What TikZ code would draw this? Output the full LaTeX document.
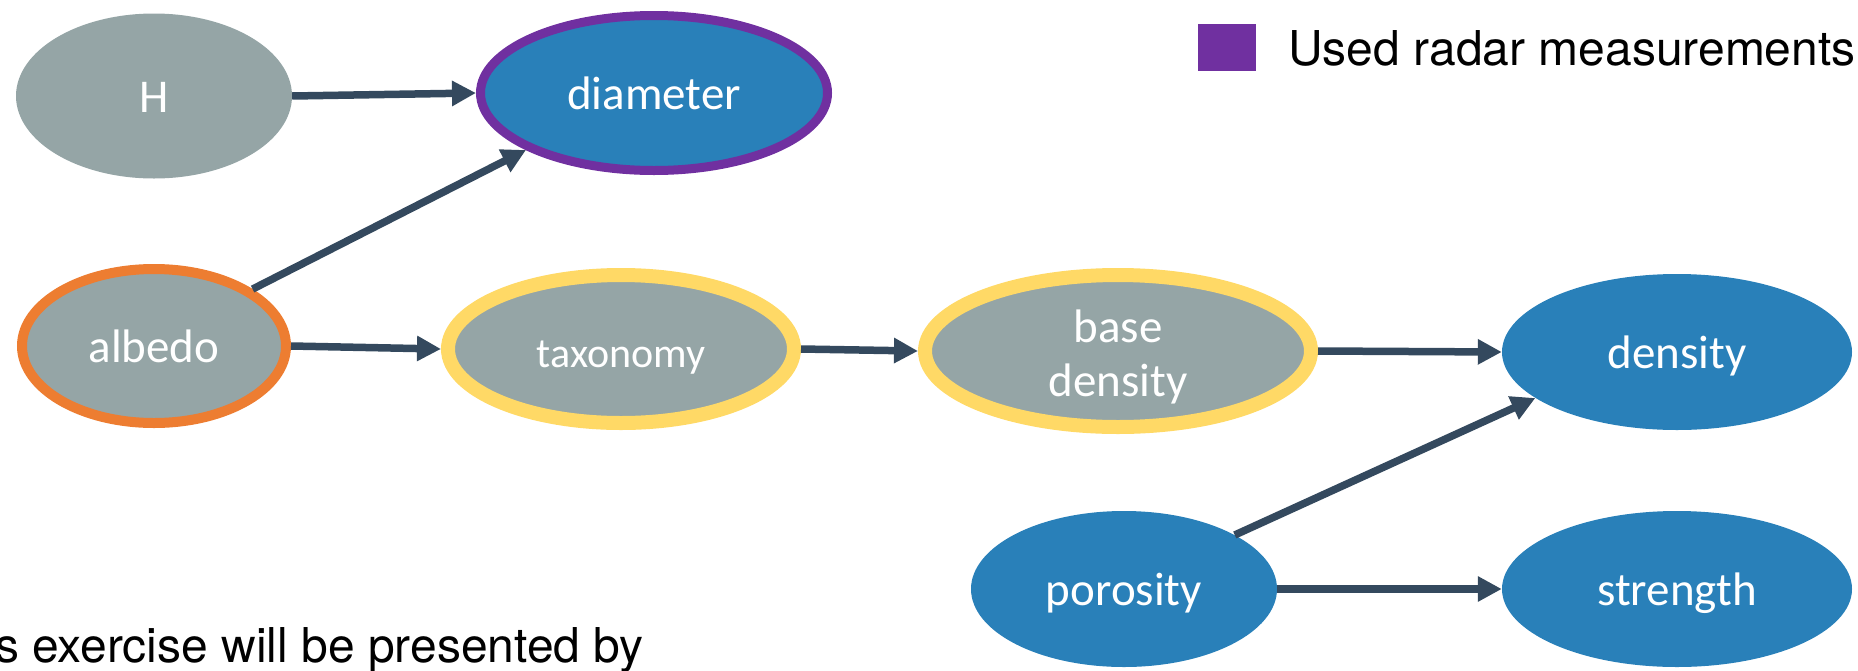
\documentclass[tikz,border=0pt]{standalone}
\usepackage{fontspec}
\setmainfont{Carlito}
\newfontfamily\legendfont{TeX Gyre Heros}
\usetikzlibrary{shapes.geometric,arrows.meta}

\definecolor{nodegray}{HTML}{95A5A6}
\definecolor{nodeblue}{HTML}{2980B9}
\definecolor{radarpurple}{HTML}{7030A0}
\definecolor{albedoorange}{HTML}{ED7D31}
\definecolor{taxyellow}{HTML}{FFD966}
\definecolor{edgeslate}{HTML}{34495E}

\tikzset{
  varnode/.style={ellipse, inner sep=0pt, text=white,
    font=\fontsize{47}{54}\selectfont, text height=33pt, text depth=0pt},
  grayvar/.style={varnode, fill=nodegray},
  bluevar/.style={varnode, fill=nodeblue},
  radarring/.style={draw=radarpurple, line width=9pt},
  orangering/.style={draw=albedoorange, line width=10pt},
  yellowring/.style={draw=taxyellow, line width=14pt},
  link/.style={draw=edgeslate, line width=7.5pt,
    -{Triangle[length=24pt,width=24pt]}},
  legendtext/.style={font=\legendfont\fontsize{48}{54}\selectfont,
    text=black, inner sep=0pt}
}

\begin{document}
\begin{tikzpicture}[x=1pt,y=-1pt]
  \path[use as bounding box] (0,0) rectangle (1858,670);
  \clip (0,0) rectangle (1858,670);

  % variables
  \node[grayvar, minimum width=276pt, minimum height=165pt] (H) at (154,96) {H};
  \node[bluevar, radarring, minimum width=347pt, minimum height=155pt] (diameter) at (654,93) {diameter};
  \node[grayvar, orangering, minimum width=264pt, minimum height=154pt] (albedo) at (154,346) {albedo};
  \node[grayvar, yellowring, minimum width=346pt, minimum height=148pt,
        font=\fontsize{42}{48}\selectfont, text height=36pt] (taxonomy) at (621,349) {taxonomy};
  \node[grayvar, yellowring, minimum width=386pt, minimum height=152pt,
        align=center, text height=, text depth=] (basedensity) at (1118,351)
        {\rule{0pt}{45pt}base\\density};
  \node[bluevar, minimum width=350pt, minimum height=156pt] (density) at (1677,352) {density};
  \node[bluevar, minimum width=306pt, minimum height=156pt] (porosity) at (1124,589) {porosity};
  \node[bluevar, minimum width=350pt, minimum height=156pt] (strength) at (1677,589) {strength};

  % dependencies
  \draw[link] (H.east) -- (diameter.west);
  \draw[link] (albedo.30) -- (diameter.204);
  \draw[link] (albedo.east) -- (taxonomy.west);
  \draw[link] (taxonomy.east) -- (basedensity.west);
  \draw[link] (basedensity.east) -- (density.west);
  \draw[link] (porosity.26) -- (density.198);
  \draw[link] (porosity.east) -- (strength.west);

  % legend
  \node[fill=radarpurple, minimum width=58pt, minimum height=47pt, inner sep=0pt,
        anchor=north west] (legendkey) at (1198,24) {};
  \node[legendtext, anchor=base west] (legendlabel) at (1288,65) {Used radar measurements};

  % caption line
  \node[legendtext, anchor=base east] (caption) at (644,662) {s exercise will be presented by};
\end{tikzpicture}
\end{document}
